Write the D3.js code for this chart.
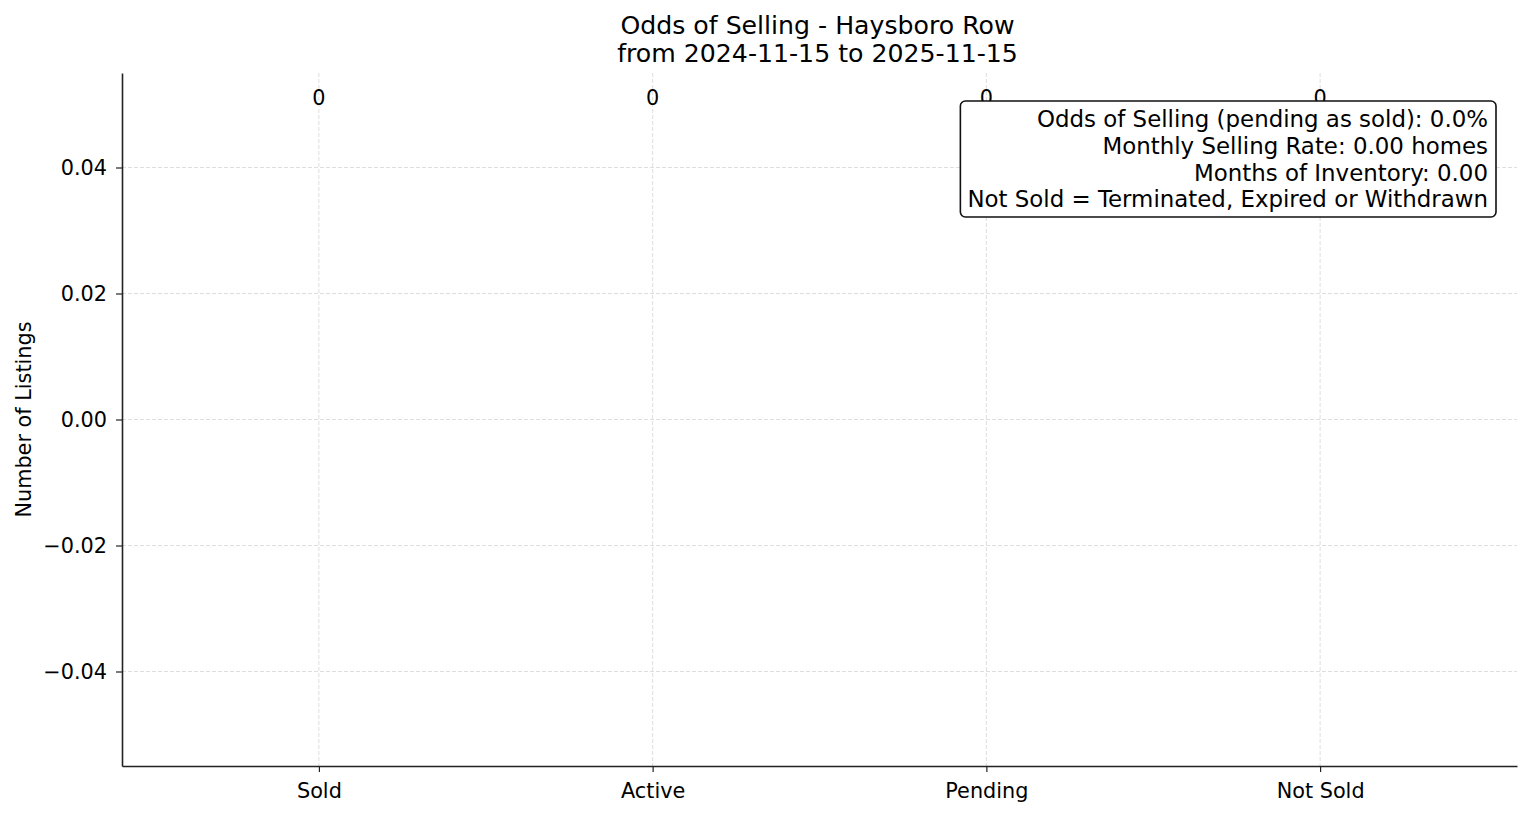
<!DOCTYPE html>
<html>
<head>
<meta charset="utf-8">
<script src="https://cdn.jsdelivr.net/npm/d3@7"></script>
<style>
  body { margin: 0; background: #fff; }
  text { font-family: "DejaVu Sans", sans-serif; fill: #000; }
</style>
</head>
<body>
<div class="container_graph"></div>
<script>
// datos
const categories = ["Sold", "Active", "Pending", "Not Sold"];
const counts = [0, 0, 0, 0];
const yTicks = [-0.04, -0.02, 0, 0.02, 0.04];
const titleLines = ["Odds of Selling - Haysboro Row", "from 2024-11-15 to 2025-11-15"];
const infoLines = [
  "Odds of Selling (pending as sold): 0.0%",
  "Monthly Selling Rate: 0.00 homes",
  "Months of Inventory: 0.00",
  "Not Sold = Terminated, Expired or Withdrawn"
];

// medidas
const width = 1531;
const height = 816;
const margin = { top: 73, right: 14, bottom: 50, left: 122 };
const innerWidth = width - margin.left - margin.right;
const innerHeight = height - margin.top - margin.bottom;
const fontSize = "20.8px";

const svg = d3
  .select(".container_graph")
  .append("svg")
  .attr("width", width)
  .attr("height", height)
  .attr("viewBox", [0, 0, width, height]);

const g = svg
  .append("g")
  .attr("transform", `translate(${margin.left},${margin.top})`);

// escalas
const x = d3.scaleLinear().domain([-0.59, categories.length - 1 + 0.59]).range([0, innerWidth]);
const y = d3.scaleLinear().domain([-0.055, 0.055]).range([innerHeight, 0]);

// grid
const gridColor = "#d6d6d6";
g.append("g")
  .selectAll("line")
  .data(yTicks)
  .join("line")
  .attr("x1", 0)
  .attr("x2", innerWidth)
  .attr("y1", (d) => y(d))
  .attr("y2", (d) => y(d))
  .attr("stroke", gridColor)
  .attr("stroke-width", 0.8)
  .attr("stroke-dasharray", "4,2");

g.append("g")
  .selectAll("line")
  .data(categories)
  .join("line")
  .attr("x1", (d, i) => x(i))
  .attr("x2", (d, i) => x(i))
  .attr("y1", 0)
  .attr("y2", innerHeight)
  .attr("stroke", gridColor)
  .attr("stroke-width", 0.8)
  .attr("stroke-dasharray", "4,2");

// barras (altura cero)
g.append("g")
  .selectAll("rect")
  .data(counts)
  .join("rect")
  .attr("x", (d, i) => x(i - 0.4))
  .attr("width", x(0.8) - x(0))
  .attr("y", (d) => Math.min(y(d), y(0)))
  .attr("height", (d) => Math.abs(y(d) - y(0)))
  .attr("fill", "#4c72b0");

// etiquetas de valor
g.append("g")
  .selectAll("text")
  .data(counts)
  .join("text")
  .attr("x", (d, i) => x(i))
  .attr("y", (d) => y(0.05))
  .attr("text-anchor", "middle")
  .style("font-size", fontSize)
  .text((d) => d);

// ejes
const xAxis = g
  .append("g")
  .attr("transform", `translate(0,${innerHeight})`)
  .call(
    d3.axisBottom(x)
      .tickValues(d3.range(categories.length))
      .tickFormat((d) => categories[d])
      .tickSizeInner(6)
      .tickSizeOuter(0)
      .tickPadding(11)
  );

const yAxis = g
  .append("g")
  .call(
    d3.axisLeft(y)
      .tickValues(yTicks)
      .tickFormat((d) => d3.format(".2f")(d).replace("-", "\u2212"))
      .tickSizeInner(6)
      .tickSizeOuter(0)
      .tickPadding(9)
  );

[xAxis, yAxis].forEach((ax) => {
  ax.select(".domain").attr("stroke", "#222").attr("stroke-width", 1.6);
  ax.selectAll(".tick line").attr("stroke", "#222").attr("stroke-width", 1.2);
  ax.selectAll(".tick text")
    .style("font-family", "DejaVu Sans, sans-serif")
    .style("font-size", fontSize)
    .attr("fill", "#000");
});

// titulo eje y
svg
  .append("text")
  .attr("transform", `translate(31,${margin.top + y(0)}) rotate(-90)`)
  .attr("text-anchor", "middle")
  .style("font-size", fontSize)
  .text("Number of Listings");

// titulo
svg
  .append("g")
  .selectAll("text")
  .data(titleLines)
  .join("text")
  .attr("x", margin.left + innerWidth / 2 - 2)
  .attr("y", (d, i) => 34 + i * 28)
  .attr("text-anchor", "middle")
  .style("font-size", "25.2px")
  .text((d) => d);

// caja de informacion
const box = g.append("g");
const infoText = box
  .append("text")
  .attr("text-anchor", "end")
  .style("font-size", "22.9px");

infoText
  .selectAll("tspan")
  .data(infoLines)
  .join("tspan")
  .attr("x", innerWidth - 29)
  .attr("y", (d, i) => 54 + i * 26.8)
  .text((d) => d);

const bb = infoText.node().getBBox();
box
  .insert("rect", "text")
  .attr("x", bb.x - 7)
  .attr("y", 28)
  .attr("width", innerWidth - 21 - (bb.x - 7))
  .attr("height", 116)
  .attr("rx", 5)
  .attr("fill", "#fff")
  .attr("stroke", "#111")
  .attr("stroke-width", 1.6);
</script>
</body>
</html>
